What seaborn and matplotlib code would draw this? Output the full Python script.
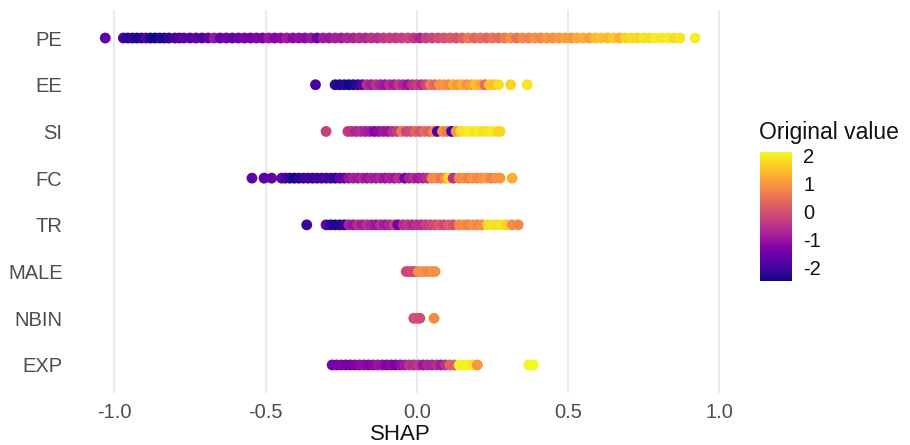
import matplotlib
matplotlib.use("Agg")
import matplotlib.pyplot as plt
import numpy as np
import pandas as pd
import seaborn as sns

# ---------------- data ----------------
features = ["PE", "EE", "SI", "FC", "TR", "MALE", "NBIN", "EXP"]

pe_shap = [-1.03, -0.97, -0.955, -0.94, -0.925, -0.91, -0.895, -0.88, -0.865, -0.85,
           -0.835, -0.82, -0.80, -0.785, -0.77, -0.75, -0.73, -0.71, -0.69, -0.67,
           -0.65, -0.63, -0.61, -0.59, -0.57, -0.55, -0.53, -0.51, -0.49, -0.47,
           -0.45, -0.43, -0.41, -0.39, -0.37, -0.35, -0.33, -0.31, -0.29, -0.27,
           -0.25, -0.23, -0.21, -0.19, -0.17, -0.15, -0.13, -0.11, -0.09, -0.07,
           -0.05, -0.03, -0.01, 0.01, 0.03, 0.05, 0.07, 0.09, 0.11, 0.13,
           0.15, 0.17, 0.19, 0.21, 0.23, 0.25, 0.27, 0.29, 0.31, 0.33,
           0.35, 0.37, 0.39, 0.41, 0.43, 0.45, 0.47, 0.49, 0.51, 0.53,
           0.55, 0.57, 0.59, 0.61, 0.63, 0.65, 0.67, 0.69, 0.71, 0.73,
           0.75, 0.77, 0.79, 0.81, 0.83, 0.85, 0.87, 0.92]
pe_value = [-1.6, -2.0, -2.3, -2.2, -2.4, -2.3, -1.8, -2.4, -2.5, -2.3,
            -2.4, -2.2, -2.0, -1.9, -1.7, -1.8, -1.7, -1.9, -1.6, -1.0,
            -1.6, -1.5, -1.7, -1.5, -1.4, -1.5, -1.3, -1.4, -1.0, -1.3,
            -1.2, -0.9, -1.2, -1.1, -1.2, -1.0, -1.6, -0.9, -1.0, -0.8,
            -0.9, -0.7, -0.8, -0.6, -0.7, -0.5, -0.6, -0.4, -0.3, -0.4,
            -0.3, -0.2, -0.4, -0.7, -0.3, -0.2, -0.1, 0.0, 0.1, 0.0,
            0.2, 0.6, 0.3, 0.4, 0.3, 0.5, 0.4, 0.6, 0.9, 0.5,
            0.8, 0.7, 0.9, 0.8, 1.0, 0.9, 1.0, 1.1, 1.0, 1.2,
            1.3, 1.1, 1.4, 1.5, 1.4, 1.6, 1.3, 1.7, 1.8, 1.7,
            1.9, 1.8, 2.0, 1.9, 2.0, 1.8, 1.9, 2.0]

ee_shap = [-0.335, -0.27, -0.255, -0.24, -0.225, -0.21, -0.195, -0.18, -0.165, -0.15,
           -0.135, -0.12, -0.105, -0.09, -0.075, -0.06, -0.045, -0.03, -0.015, 0.0,
           0.015, 0.03, 0.045, 0.06, 0.075, 0.09, 0.105, 0.12, 0.135, 0.15,
           0.165, 0.18, 0.195, 0.21, 0.225, 0.24, 0.255, 0.27, 0.31, 0.365]
ee_value = [-1.9, -2.3, -2.4, -2.3, -2.5, -2.4, -2.2, -1.8, -0.6, -0.9,
            -0.5, -0.8, -1.0, -0.6, -0.9, -0.4, -0.7, -1.0, -0.5, -0.3,
            -0.6, -0.2, 0.6, 0.3, 0.9, 1.0, 0.8, 1.2, 1.0, 1.3,
            0.9, 1.1, 1.5, 1.2, 0.4, 1.6, 1.4, 1.8, 1.7, 1.9]

si_shap = [-0.30, -0.228, -0.215, -0.20, -0.185, -0.17, -0.155, -0.14, -0.125, -0.11,
           -0.095, -0.08, -0.065, -0.05, -0.035, -0.02, -0.005, 0.01, 0.025, 0.04,
           0.055, 0.068, 0.085, 0.10, 0.115, 0.13, 0.145, 0.16, 0.175, 0.19,
           0.205, 0.22, 0.235, 0.25, 0.265, 0.275]
si_value = [-0.3, -0.4, -0.5, -0.7, -0.6, -0.8, -0.9, -1.3, -1.1, -0.9,
            -1.0, -0.6, -0.3, 0.6, -0.2, -0.1, 0.3, 0.0, 0.4, 0.2,
            0.7, -1.9, 0.9, 0.6, -2.1, 1.0, 1.8, 1.9, 2.0, 1.9,
            2.0, 1.8, 1.9, 2.0, 1.8, 1.7]

fc_shap = [-0.545, -0.505, -0.48, -0.447, -0.435, -0.42, -0.405, -0.39, -0.375, -0.36,
           -0.345, -0.33, -0.315, -0.30, -0.285, -0.27, -0.255, -0.24, -0.225, -0.21,
           -0.195, -0.18, -0.165, -0.15, -0.135, -0.12, -0.105, -0.09, -0.075, -0.06,
           -0.04, -0.025, -0.01, 0.005, 0.02, 0.035, 0.05, 0.065, 0.08, 0.095,
           0.105, 0.12, 0.14, 0.155, 0.17, 0.185, 0.20, 0.215, 0.23, 0.245,
           0.26, 0.275, 0.315]
fc_value = [-1.7, -1.8, -1.7, -1.6, -1.9, -2.2, -2.5, -2.3, -2.1, -2.0,
            -2.2, -2.0, -2.1, -1.9, -2.0, -2.3, -1.7, -1.6, -1.0, -0.8,
            -0.9, -0.7, -1.0, -0.8, -0.9, -0.7, -1.0, -0.8, -0.9, -0.6,
            -1.4, -0.8, -0.6, -0.9, -0.7, -0.5, 0.8, 0.9, 0.6, 1.0,
            1.8, -0.5, 0.8, 0.9, 0.7, 1.0, 0.8, 0.9, 1.1, 0.7,
            0.9, 1.0, 1.3]

tr_shap = [-0.364, -0.30, -0.285, -0.27, -0.255, -0.24, -0.225, -0.21, -0.195, -0.18,
           -0.165, -0.15, -0.135, -0.12, -0.105, -0.09, -0.075, -0.063, -0.045, -0.03,
           -0.015, 0.0, 0.015, 0.03, 0.045, 0.06, 0.075, 0.09, 0.105, 0.12,
           0.14, 0.155, 0.17, 0.185, 0.20, 0.215, 0.235, 0.25, 0.265, 0.28,
           0.295, 0.315, 0.335]
tr_value = [-2.1, -1.6, -2.3, -2.4, -2.3, -2.2, -0.8, -1.0, -0.6, -0.9,
            -0.5, -0.8, -1.0, -0.6, -0.9, -0.7, -0.3, -1.5, -0.6, -0.4,
            -0.7, -0.5, -0.6, -0.3, -0.2, -0.1, 0.1, -0.2, 0.2, 0.0,
            0.8, 0.9, 0.7, 1.0, 0.8, 0.9, 1.8, 1.9, 1.8, 1.9,
            1.7, 0.9, 0.8]

male_shap = [-0.035, -0.025, -0.015, -0.005, 0.005, 0.02, 0.035, 0.05, 0.06]
male_value = [-0.2, -0.2, -0.1, -0.2, 0.9, 0.9, 0.8, 0.9, 0.9]

nbin_shap = [-0.01, 0.0, 0.01, 0.057]
nbin_value = [-0.1, 0.0, -0.1, 0.8]

exp_shap = [-0.28, -0.265, -0.25, -0.235, -0.22, -0.205, -0.19, -0.175, -0.16, -0.145,
            -0.13, -0.115, -0.10, -0.085, -0.07, -0.055, -0.04, -0.025, -0.01, 0.005,
            0.02, 0.035, 0.05, 0.065, 0.08, 0.095, 0.11, 0.125, 0.14, 0.155,
            0.17, 0.185, 0.20, 0.37, 0.385]
exp_value = [-1.4, -1.5, -1.3, -1.4, -1.5, -1.3, -1.2, -1.1, -1.3, -1.2,
             -1.0, -1.1, -1.3, -1.2, -1.4, -1.1, -0.9, -0.5, -0.6, -0.4,
             -1.0, -0.7, -0.8, -0.6, -0.9, -0.5, 0.3, 0.2, 2.1, 2.0,
             2.1, 1.9, 1.0, 2.1, 2.12]

x_ticks = [-1.0, -0.5, 0.0, 0.5, 1.0]
cbar_ticks = [-2, -1, 0, 1, 2]

# ---------------- build table ----------------
series = {
    "PE": (pe_shap, pe_value), "EE": (ee_shap, ee_value), "SI": (si_shap, si_value),
    "FC": (fc_shap, fc_value), "TR": (tr_shap, tr_value), "MALE": (male_shap, male_value),
    "NBIN": (nbin_shap, nbin_value), "EXP": (exp_shap, exp_value),
}
rows = []
for f in features:
    s, v = series[f]
    for a, b in zip(s, v):
        rows.append({"feature": f, "SHAP": a, "value": b})
df = pd.DataFrame(rows)

vmin, vmax = -2.5, 2.12
norm = matplotlib.colors.Normalize(vmin=vmin, vmax=vmax)
cmap = plt.get_cmap("plasma")

# ---------------- plot ----------------
sns.set_style("white")
plt.rcParams["font.family"] = ["Liberation Sans", "DejaVu Sans"]
plt.rcParams["axes.unicode_minus"] = False

fig = plt.figure(figsize=(9.1, 4.45), dpi=100)
ax = fig.add_axes([75 / 910, 52 / 445, 651 / 910, 383 / 445])

ax.grid(axis="x", color="#e6e6e6", linewidth=1.2, zorder=0)
ax.set_axisbelow(True)

sns.stripplot(data=df, x="SHAP", y="feature", order=features, hue="value",
              palette="plasma", hue_norm=(vmin, vmax), jitter=False, dodge=False,
              size=7.8, linewidth=0, legend=False, ax=ax, zorder=3)

ax.set_xlim(-1.13, 1.022)
ax.set_ylim(len(features) - 0.4, -0.6)
ax.set_xticks(x_ticks)
ax.set_xticklabels([f"{t:.1f}" for t in x_ticks])
for sp in ax.spines.values():
    sp.set_visible(False)
ax.tick_params(axis="both", length=0, labelsize=14.5, labelcolor="#4d4d4d")
ax.tick_params(axis="y", pad=9)
ax.tick_params(axis="x", pad=7)
ax.set_ylabel("")
ax.set_xlabel("SHAP", fontsize=16, color="#111111")
ax.xaxis.set_label_coords(0.5, -0.082)

# colorbar
cax = fig.add_axes([760 / 910, (445 - 281) / 445, 32 / 910, 129 / 445])
sm = matplotlib.cm.ScalarMappable(norm=norm, cmap=cmap)
cb = fig.colorbar(sm, cax=cax)
cb.outline.set_visible(False)
cb.set_ticks(cbar_ticks)
cax.yaxis.set_ticks_position("both")
cax.tick_params(axis="y", direction="in", length=6, width=1, color="white",
                labelsize=14.5, labelcolor="#111111", pad=8)
cax.yaxis.set_tick_params(labelleft=False, labelright=True)
fig.text(759 / 910, 1 - 133 / 445, "Original value", fontsize=16.5, color="#111111",
         ha="left", va="center")

fig.savefig("out.png", dpi=100, facecolor="white")
